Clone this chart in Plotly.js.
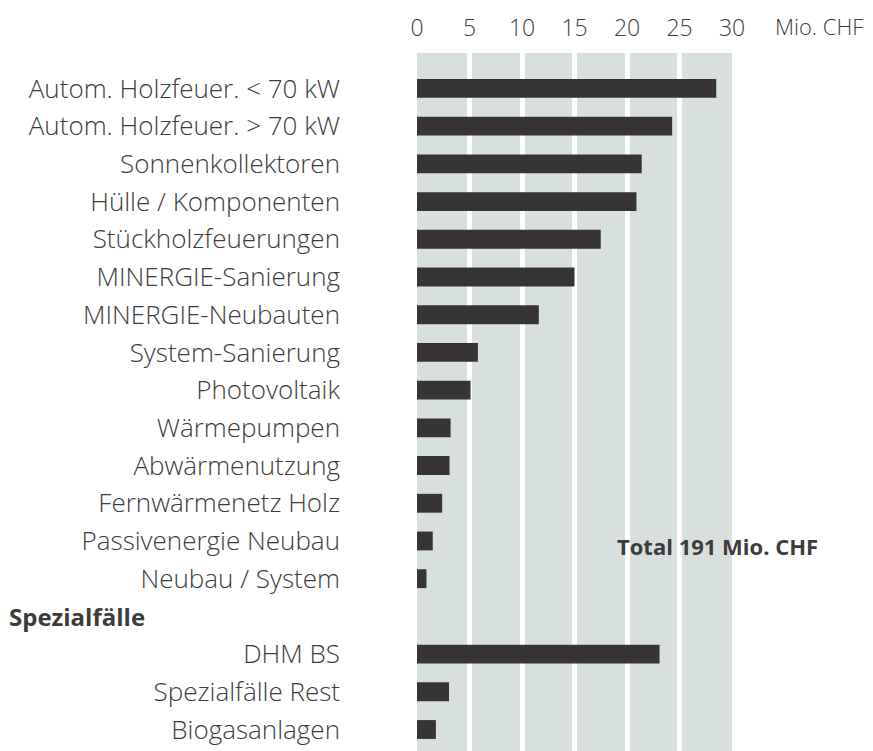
<!DOCTYPE html>
<html>
<head>
<meta charset="utf-8">
<script src="https://cdn.plot.ly/plotly-3.0.1.min.js"></script>
<style>html,body{margin:0;padding:0;background:#fff;}#chart{width:873px;height:751px;}</style>
</head>
<body>
<div id="chart"></div>
<script>
// Data (Mio. CHF)
const mainCategories = [
  "Autom. Holzfeuer. < 70 kW",
  "Autom. Holzfeuer. > 70 kW",
  "Sonnenkollektoren",
  "Hülle / Komponenten",
  "Stückholzfeuerungen",
  "MINERGIE-Sanierung",
  "MINERGIE-Neubauten",
  "System-Sanierung",
  "Photovoltaik",
  "Wärmepumpen",
  "Abwärmenutzung",
  "Fernwärmenetz Holz",
  "Passivenergie Neubau",
  "Neubau / System"
];
const mainValues = [28.5, 24.3, 21.4, 20.9, 17.5, 15.0, 11.6, 5.8, 5.1, 3.2, 3.1, 2.4, 1.5, 0.9];
const specialHeader = "Spezialfälle";
const specialCategories = ["DHM BS", "Spezialfälle Rest", "Biogasanlagen"];
const specialValues = [23.1, 3.05, 1.8];
const xTicks = [0, 5, 10, 15, 20, 25, 30];
const unitLabel = "Mio. CHF";
const totalLabel = "Total 191 Mio. CHF";

const blankRow = " ";
const allCats = mainCategories.concat([blankRow], specialCategories);

const textColor = "#3c3c3c";
const fontFam = "'Open Sans', sans-serif";

const trace = {
  type: "bar",
  orientation: "h",
  y: mainCategories.concat(specialCategories),
  x: mainValues.concat(specialValues),
  width: 0.5,
  marker: {color: "#373435"},
  hoverinfo: "x+y"
};

const layout = {
  width: 873,
  height: 751,
  margin: {l: 417, r: 141, t: 53, b: 0, pad: 0},
  paper_bgcolor: "#ffffff",
  plot_bgcolor: "#d7e0df",
  showlegend: false,
  bargap: 0.5,
  xaxis: {
    side: "top",
    range: [0, 30],
    tickvals: xTicks,
    ticktext: xTicks.map(String),
    showgrid: true,
    gridcolor: "#ffffff",
    gridwidth: 5,
    zeroline: false,
    showline: false,
    ticks: "",
    ticklabelstandoff: 11,
    tickfont: {family: fontFam, size: 23, color: textColor, weight: 300},
    fixedrange: true
  },
  yaxis: {
    type: "category",
    categoryorder: "array",
    categoryarray: allCats,
    range: [17.57, -0.94],
    showgrid: false,
    zeroline: false,
    showline: false,
    ticks: "",
    ticklabelstandoff: 76,
    tickfont: {family: fontFam, size: 26, color: textColor, weight: 300},
    fixedrange: true
  },
  annotations: [
    {
      text: specialHeader,
      xref: "paper", yref: "y",
      x: (7 - 417) / 315, y: blankRow,
      xanchor: "left", yanchor: "middle",
      showarrow: false,
      font: {family: fontFam, size: 24, color: textColor, weight: 700}
    },
    {
      text: totalLabel,
      xref: "x", yref: "y",
      x: 18.9, y: "Passivenergie Neubau",
      xanchor: "left", yanchor: "middle",
      yshift: -5,
      showarrow: false,
      font: {family: fontFam, size: 22, color: textColor, weight: 700}
    },
    {
      text: unitLabel,
      xref: "paper", yref: "paper",
      x: (773 - 417) / 315, y: 1 + (53 - 26) / 698,
      xanchor: "left", yanchor: "middle",
      showarrow: false,
      font: {family: fontFam, size: 22, color: textColor, weight: 300}
    }
  ]
};

Plotly.newPlot("chart", [trace], layout, {displayModeBar: false, staticPlot: true});
</script>
</body>
</html>
